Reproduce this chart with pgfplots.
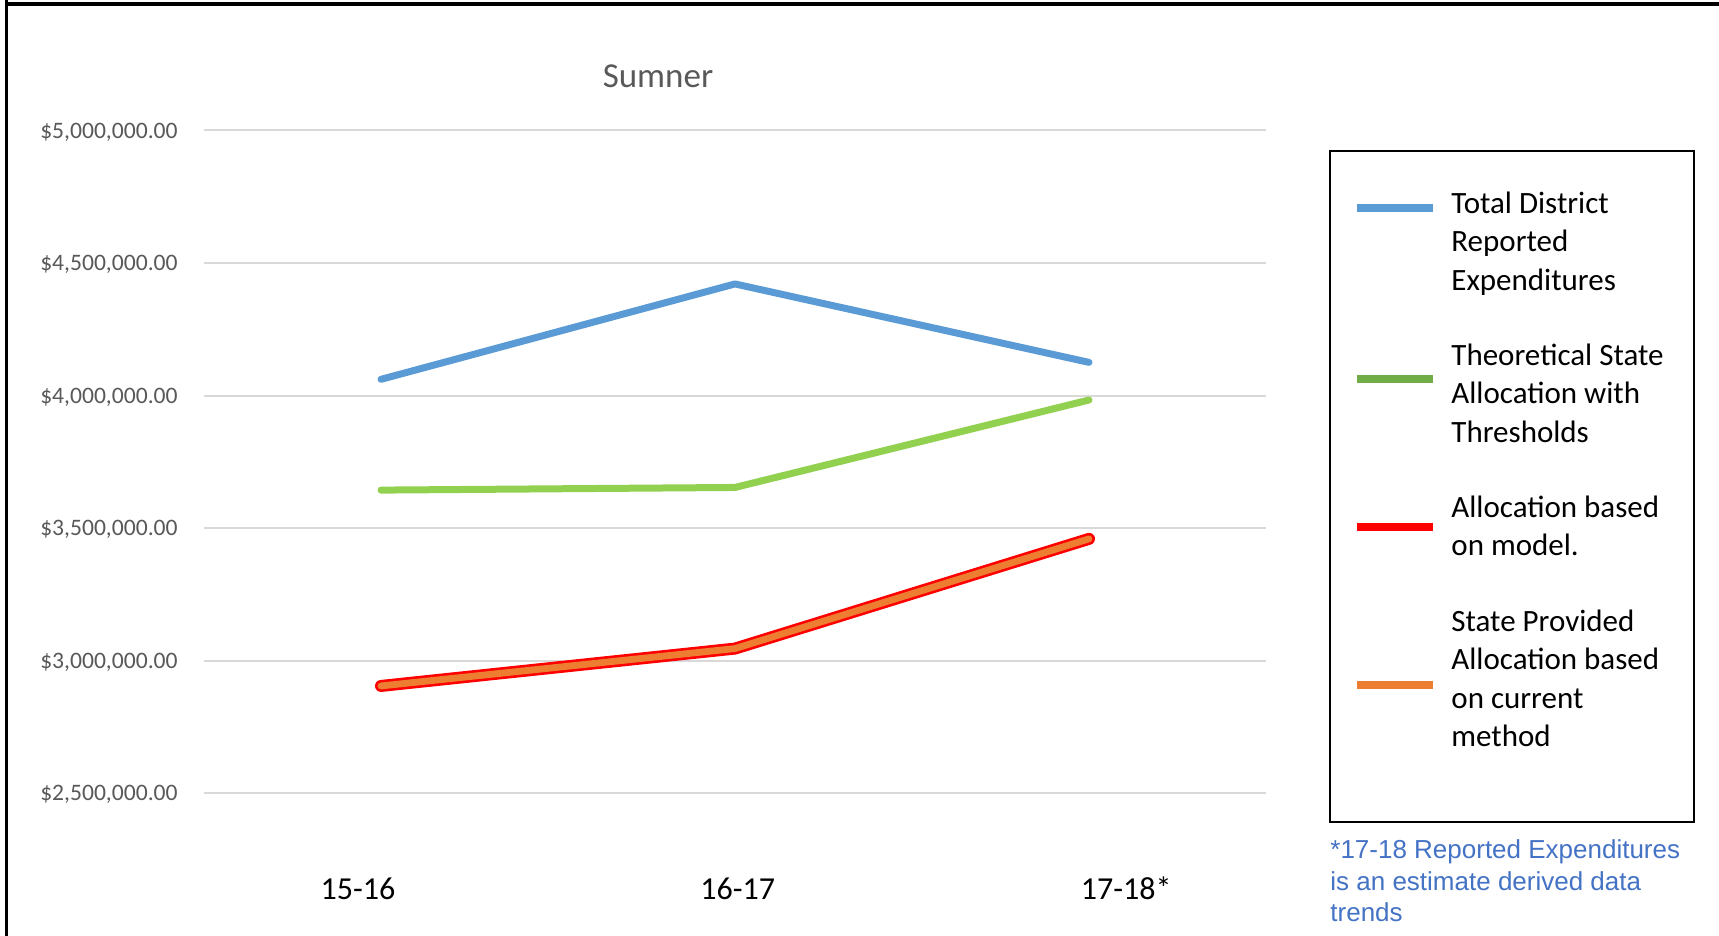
\documentclass[border=0pt]{standalone}
\usepackage{pgfplots}
\pgfplotsset{compat=1.18}
\usepackage{fontspec}
\setmainfont{Carlito}
\newfontfamily\notefont{Liberation Sans}

\definecolor{serBlue}{HTML}{5B9BD5}
\definecolor{serGreen}{HTML}{92D050}
\definecolor{keyGreen}{HTML}{70AD47}
\definecolor{serRed}{HTML}{FF0000}
\definecolor{serOrange}{HTML}{ED7D31}
\definecolor{labelGray}{HTML}{595959}
\definecolor{gridGray}{HTML}{D9D9D9}
\definecolor{noteBlue}{HTML}{4472C4}

\begin{document}
\begin{tikzpicture}
% page frame (1 unit = 0.5pt, y downwards)
\begin{scope}[x=0.5pt, y=-0.5pt]
  \useasboundingbox (0,0) rectangle (1719,936);
  \draw[line width=2pt, black] (5,4) -- (1719,4);
  \draw[line width=1.5pt, black] (6,0) -- (6,936);
\end{scope}

\begin{axis}[
  at={(102pt,-396.5pt)}, anchor=south west,
  scale only axis, width=531pt, height=331.25pt,
  xmin=-0.5, xmax=2.5, ymin=2500000, ymax=5000000,
  clip=false,
  axis line style={draw=none},
  major tick length=0pt,
  scaled y ticks=false,
  ytick={2500000,3000000,3500000,4000000,4500000,5000000},
  yticklabels={{\$2,500,000.00},{\$3,000,000.00},{\$3,500,000.00},{\$4,000,000.00},{\$4,500,000.00},{\$5,000,000.00}},
  yticklabel style={anchor=base east, inner sep=0pt, xshift=-13pt, yshift=-3.8pt,
    font=\fontsize{11.8pt}{14pt}\selectfont, text=labelGray},
  ymajorgrids,
  grid style={draw=gridGray, line width=1pt},
  xtick={-0.065,1.008,2.105},
  xticklabels={15-16,16-17,17-18*},
  xticklabel style={anchor=base, inner sep=0pt, yshift=-53pt,
    font=\fontsize{16pt}{19pt}\selectfont, text=black},
  title={Sumner},
  title style={at={(0.4275,1)}, anchor=center, yshift=21pt, inner sep=0pt,
    font=\fontsize{17.5pt}{21pt}\selectfont, text=labelGray},
]
% Allocation based on model (wide red band)
\addplot[serRed, line width=6pt, line cap=round, line join=round]
  coordinates {(0,2904000) (1,3045000) (2,3459000)};
% State provided allocation based on current method
\addplot[serOrange, line width=3.4pt, line cap=round, line join=round]
  coordinates {(0,2904000) (1,3045000) (2,3459000)};
% Theoretical state allocation with thresholds
\addplot[serGreen, line width=3.5pt, line cap=round, line join=round]
  coordinates {(0,3643000) (1,3653000) (2,3983000)};
% Total district reported expenditures
\addplot[serBlue, line width=3.5pt, line cap=round, line join=round]
  coordinates {(0,4061000) (1,4421000) (2,4125000)};
\end{axis}

% key box and note
\begin{scope}[x=0.5pt, y=-0.5pt]
  \draw[black, line width=0.75pt] (1330,151) rectangle (1694,822);
  \draw[serBlue,   line width=4pt] (1357,208) -- (1433,208);
  \draw[keyGreen,  line width=4pt] (1357,379) -- (1433,379);
  \draw[serRed,    line width=4pt] (1357,527) -- (1433,527);
  \draw[serOrange, line width=4pt] (1357,685) -- (1433,685);
  \tikzset{key/.style={anchor=base west, inner sep=0pt, font=\fontsize{15.5pt}{19pt}\selectfont}}
  \node[key] at (1451,213.5) {Total District};
  \node[key] at (1451,252)   {Reported};
  \node[key] at (1451,290.5) {Expenditures};
  \node[key] at (1451,365)   {Theoretical State};
  \node[key] at (1451,403.5) {Allocation with};
  \node[key] at (1451,442)   {Thresholds};
  \node[key] at (1451,517)   {Allocation based};
  \node[key] at (1451,555.5) {on model.};
  \node[key] at (1451,631)   {State Provided};
  \node[key] at (1451,669.5) {Allocation based};
  \node[key] at (1451,708)   {on current};
  \node[key] at (1451,746.5) {method};
  \tikzset{note/.style={anchor=base west, inner sep=0pt, text=noteBlue,
    font=\notefont\fontsize{13pt}{16pt}\selectfont}}
  \node[note] at (1330,858)   {*17-18 Reported Expenditures};
  \node[note] at (1330,890)   {is an estimate derived data};
  \node[note] at (1330,921.5) {trends};
\end{scope}
\end{tikzpicture}
\end{document}
